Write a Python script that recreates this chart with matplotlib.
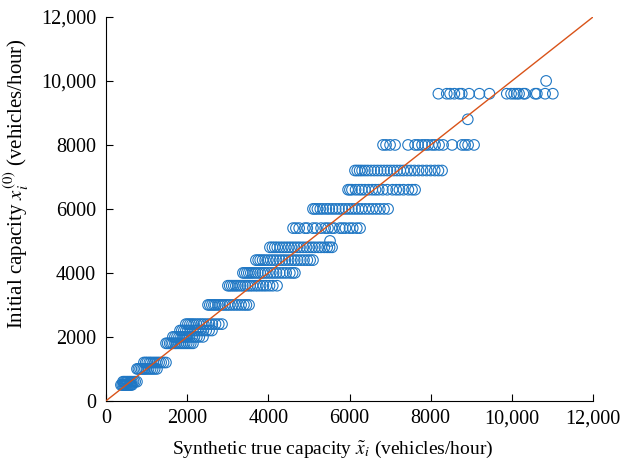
import matplotlib
matplotlib.use("Agg")
import matplotlib.pyplot as plt
from matplotlib.ticker import FuncFormatter

plt.rcParams['font.family'] = ['Liberation Serif', 'DejaVu Serif']
plt.rcParams['mathtext.fontset'] = 'stix'

# initial capacity levels and the synthetic true capacities that map to each
levels = [500, 600, 1000, 1200, 1800, 2000, 2200, 2400, 3000, 3600, 4000,
          4400, 4800, 5000, 5400, 6000, 6600, 7200, 8000, 8800, 9600, 10000]

true_caps = [
    [370, 400, 430, 455, 480, 505, 530, 560, 590, 615, 641],
    [420, 450, 480, 515, 545, 580, 610, 640, 680, 720, 764],
    [765, 800, 840, 880, 920, 960, 1000, 1050, 1100, 1150, 1200, 1257],
    [936, 980, 1020, 1070, 1110, 1160, 1210, 1260, 1310, 1360, 1420, 1479],
    [1480, 1520, 1570, 1610, 1650, 1700, 1740, 1790, 1840, 1890, 1940, 1990,
     2040, 2090, 2144],
    [1650, 1700, 1750, 1800, 1850, 1900, 1950, 2000, 2060, 2120, 2180, 2240,
     2300, 2390],
    [1825, 1870, 1920, 1970, 2020, 2080, 2140, 2200, 2260, 2330, 2400, 2470,
     2540, 2612],
    [1970, 2020, 2070, 2120, 2170, 2230, 2290, 2350, 2410, 2480, 2550, 2620,
     2700, 2780, 2860],
    [2515, 2560, 2610, 2660, 2700, 2760, 2810, 2870, 2930, 2990, 3050, 3120,
     3190, 3260, 3330, 3400, 3460, 3525],
    [3005, 3050, 3100, 3150, 3200, 3250, 3310, 3370, 3430, 3490, 3550, 3610,
     3680, 3740, 3810, 3880, 3950, 4030, 4110, 4215],
    [3375, 3420, 3470, 3520, 3570, 3620, 3680, 3740, 3800, 3860, 3920, 3990,
     4060, 4130, 4200, 4280, 4360, 4440, 4530, 4600, 4655],
    [3695, 3750, 3800, 3860, 3920, 3990, 4060, 4130, 4200, 4280, 4350, 4420,
     4500, 4580, 4650, 4720, 4800, 4880, 4960, 5030, 5100],
    [4040, 4100, 4160, 4220, 4290, 4360, 4430, 4500, 4570, 4640, 4710, 4780,
     4860, 4940, 5010, 5080, 5150, 5230, 5300, 5380, 5450, 5510, 5570],
    [5520],
    [4610, 4680, 4760, 4900, 4960, 5100, 5180, 5300, 5400, 5470, 5560, 5620,
     5760, 5830, 5900, 6000, 6080, 6180, 6260],
    [5100, 5150, 5210, 5280, 5350, 5430, 5500, 5580, 5660, 5740, 5820, 5900,
     5980, 6060, 6140, 6220, 6300, 6390, 6480, 6570, 6660, 6750, 6850, 6950],
    [5965, 6010, 6060, 6150, 6230, 6300, 6380, 6470, 6560, 6640, 6720, 6820,
     6930, 7060, 7150, 7230, 7330, 7450, 7540, 7615],
    [6135, 6190, 6250, 6310, 6380, 6450, 6530, 6610, 6690, 6770, 6850, 6930,
     7010, 7090, 7170, 7250, 7330, 7420, 7510, 7600, 7700, 7800, 7900, 8000,
     8100, 8190, 8280],
    [6826, 6900, 6999, 7122, 7442, 7615, 7689, 7787, 7861, 7935, 8034, 8108,
     8206, 8305, 8527, 8773, 8847, 8921, 9068],
    [8913],
    [8189, 8396, 8477, 8583, 8706, 8765, 8945, 9199, 9446, 9874, 9980, 10054,
     10121, 10177, 10283, 10325, 10572, 10614, 10818, 11008],
    [10843],
]

ticks = [0, 2000, 4000, 6000, 8000, 10000, 12000]

xs, ys = [], []
for lvl, row in zip(levels, true_caps):
    xs.extend(row)
    ys.extend([lvl] * len(row))

fig = plt.figure(figsize=(6.23, 4.70), dpi=100)
ax = fig.add_axes([0.170, 0.147, 0.782, 0.817])

ax.scatter(xs, ys, s=58, facecolors='none', edgecolors='#1f77c4',
           linewidths=0.8, zorder=2)
ax.plot([0, 12000], [0, 12000], color='#D95319', lw=1.0, zorder=3)

ax.set_xlim(0, 12000)
ax.set_ylim(0, 12000)
ax.set_xticks(ticks)
ax.set_yticks(ticks)

fmt = FuncFormatter(lambda v, p: f"{int(v):,}" if v >= 10000 else f"{int(v)}")
ax.xaxis.set_major_formatter(fmt)
ax.yaxis.set_major_formatter(fmt)

for side in ['top', 'right']:
    ax.spines[side].set_visible(False)
for side in ['left', 'bottom']:
    ax.spines[side].set_linewidth(0.8)
ax.tick_params(direction='in', length=5, width=0.8, labelsize=14.5)
ax.tick_params(axis='x', pad=6)
ax.tick_params(axis='y', pad=7)

ax.set_xlabel(r"Synthetic true capacity $\tilde{x}_i$ (vehicles/hour)",
              fontsize=14)
ax.set_ylabel(r"Initial capacity $x_i^{(0)}$ (vehicles/hour)",
              fontsize=15)
ax.xaxis.set_label_coords(0.466, -0.100)
ax.yaxis.set_label_coords(-0.154, 0.565)

fig.savefig("out.png", dpi=100)
